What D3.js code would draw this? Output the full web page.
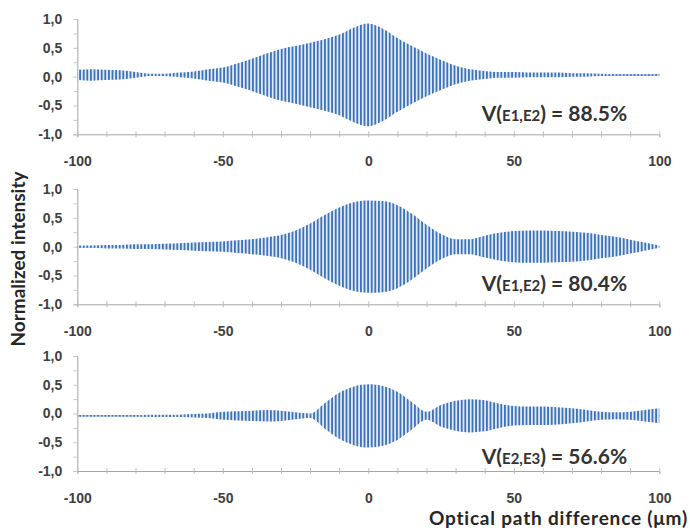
<!DOCTYPE html>
<html>
<head>
<meta charset="utf-8">
<script src="https://cdn.jsdelivr.net/npm/d3@7/dist/d3.min.js"></script>
<style>
  body { margin: 0; background: #fff; }
  svg { display: block; font-family: Lato, "Open Sans", sans-serif; }
</style>
</head>
<body>
<div id="chart"></div>
<script>
// optical path difference samples (um), envelope read every 5 um
const opd = [-100,-95,-90,-85,-80,-75,-70,-65,-60,-55,-50,-45,-40,-35,-30,-25,-20,-15,-10,-5,
             0,5,10,15,20,25,30,35,40,45,50,55,60,65,70,75,80,85,90,95,100];

// fringe envelope (amplitude of the normalized intensity) for each interferogram
const env1 = [0.09,0.10,0.09,0.08,0.05,0.02,0.02,0.04,0.06,0.10,0.13,0.20,0.28,0.37,0.45,0.50,0.56,0.62,0.70,0.82,
              0.89,0.80,0.64,0.50,0.37,0.26,0.16,0.10,0.07,0.05,0.05,0.04,0.04,0.04,0.03,0.03,0.02,0.01,0.01,0.01,0.01];
const env2 = [0.02,0.02,0.03,0.03,0.04,0.04,0.05,0.06,0.07,0.08,0.09,0.11,0.13,0.16,0.20,0.28,0.40,0.55,0.68,0.77,
              0.80,0.79,0.72,0.57,0.38,0.22,0.13,0.13,0.19,0.24,0.27,0.28,0.28,0.27,0.26,0.24,0.20,0.17,0.12,0.07,0.02];
const env3 = [0.01,0.01,0.01,0.01,0.01,0.02,0.02,0.02,0.03,0.04,0.07,0.08,0.09,0.10,0.09,0.06,0.04,0.22,0.40,0.51,
              0.55,0.52,0.42,0.24,0.07,0.19,0.26,0.29,0.27,0.21,0.17,0.16,0.16,0.15,0.13,0.10,0.07,0.06,0.07,0.10,0.13];
const baseline = [0.03, 0.0, -0.04];

const pairs = ["E1,E2", "E1,E2", "E2,E3"];
const visibility = ["88.5%", "80.4%", "56.6%"];

const xTicks = [-100, -50, 0, 50, 100];
const xMinor = [-100,-90,-80,-70,-60,-50,-40,-30,-20,-10,0,10,20,30,40,50,60,70,80,90,100];
const yTicks = [1, 0.5, 0, -0.5, -1];
const yTickLabels = ["1,0", "0,5", "0,0", "-0,5", "-1,0"];
const yMinor = [1, 0.75, 0.5, 0.25, 0, -0.25, -0.5, -0.75, -1];

const envs = [env1, env2, env3];

const width = 690, height = 530;
const svg = d3.select("#chart").append("svg")
  .attr("width", width).attr("height", height);

// fringes drawn as dense vertical stripes clipped to the envelope
const pat = svg.append("defs").append("pattern")
  .attr("id", "fringe")
  .attr("patternUnits", "userSpaceOnUse")
  .attr("width", 3.6).attr("height", 20);
pat.append("rect").attr("width", 3.6).attr("height", 20).attr("fill", "#dfe8f5");
pat.append("rect").attr("width", 1.8).attr("height", 20).attr("fill", "#3d73b9");

const x = d3.scaleLinear().domain([-100, 100]).range([77.3, 659.3]);

const panelTop = [19, 189, 356];
const panelBottom = [134.3, 304.3, 471];
const textY = [120.7, 290.7, 464];

const axisColor = "#a6a6a6";
const labelColor = "#404040";

envs.forEach(function(env, p) {
  const y = d3.scaleLinear().domain([-1, 1]).range([panelBottom[p], panelTop[p]]);
  const off = baseline[p];
  const g = svg.append("g");

  // y axis
  const ya = g.append("g")
    .attr("transform", "translate(" + x(-100) + ",0)")
    .call(d3.axisLeft(y).tickValues(yMinor).tickSize(4).tickPadding(11)
      .tickFormat(function(d) { const i = yTicks.indexOf(d); return i >= 0 ? yTickLabels[i] : ""; }));
  ya.select(".domain").attr("stroke", axisColor);
  ya.selectAll(".tick line").attr("stroke", "#c8c8c8");
  ya.selectAll("text").attr("fill", labelColor).style("font-size", "14px").style("font-weight", "bold");

  // x axis at the bottom of the panel, ticks crossing the line
  const xa = g.append("g")
    .attr("transform", "translate(0," + y(-1) + ")")
    .call(d3.axisBottom(x).tickValues(xMinor).tickSize(3)
      .tickFormat(function(d) { return xTicks.indexOf(d) >= 0 ? d : ""; }));
  xa.select(".domain").attr("stroke", axisColor);
  xa.selectAll(".tick line").attr("stroke", "#bdbdbd").attr("y1", -3).attr("y2", 3);
  xa.selectAll("text").attr("fill", labelColor).attr("y", 27).attr("dy", "0.35em")
    .style("font-size", "14px").style("font-weight", "bold");

  // flat baseline of the signal
  g.append("path")
    .datum(env)
    .attr("fill", "none")
    .attr("stroke", "#4a7ebb")
    .attr("stroke-width", 1.5)
    .attr("d", d3.line().x(function(d, i) { return x(opd[i]); }).y(function() { return y(off); }));

  // fringe envelope
  g.append("path")
    .datum(env)
    .attr("fill", "url(#fringe)")
    .attr("d", d3.area()
      .x(function(d, i) { return x(opd[i]); })
      .y0(function(d) { return y(off - d); })
      .y1(function(d) { return y(off + d); })
      .curve(d3.curveMonotoneX));

  // visibility label
  const t = g.append("text")
    .attr("x", 481.7).attr("y", textY[p])
    .attr("fill", "#333")
    .style("font-weight", "bold");
  t.append("tspan").style("font-size", "21px").text("V(");
  t.append("tspan").style("font-size", "15px").text(pairs[p]);
  t.append("tspan").style("font-size", "21px").text(") = " + visibility[p]);
});

// axis titles
svg.append("text")
  .attr("x", 688).attr("y", 525)
  .attr("text-anchor", "end")
  .attr("fill", "#262626")
  .style("font-size", "19px").style("font-weight", "bold")
  .style("letter-spacing", "0.8px")
  .text("Optical path difference (μm)");

svg.append("text")
  .attr("transform", "translate(25,259) rotate(-90)")
  .attr("text-anchor", "middle")
  .attr("fill", "#262626")
  .style("font-size", "19px").style("font-weight", "bold")
  .text("Normalized intensity");
</script>
</body>
</html>
